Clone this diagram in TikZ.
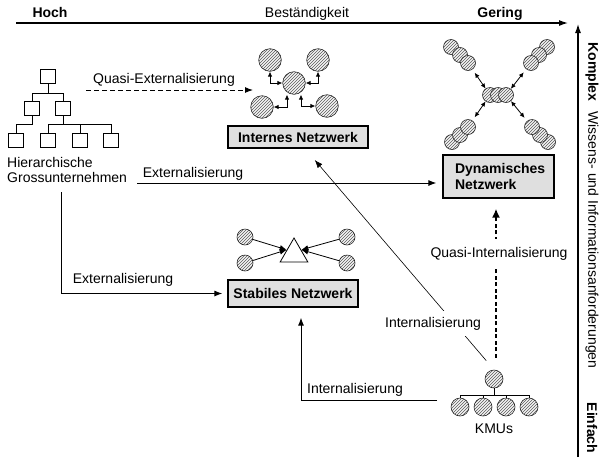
\documentclass[tikz,border=0pt]{standalone}
\usepackage{fontspec}
\setmainfont{Liberation Sans}
\usepackage{tikz}
\usetikzlibrary{arrows.meta,patterns,shapes.geometric,calc}
\newcommand{\lfont}{\fontsize{14}{15.5}\selectfont}
\tikzset{hcirc/.style={circle, draw=black!85, line width=0.6pt, preaction={fill=gray!8}, pattern=north east lines, pattern color=black!65, inner sep=0pt, minimum size=#1},
%default size of the hatched circles
hcirc/.default={16pt},
netbox/.style={draw, line width=1.2pt, fill=gray!25, font=\lfont\bfseries, minimum height=22pt, inner sep=0pt},
hbox/.style={draw, line width=0.7pt, minimum width=15pt, minimum height=14pt, inner sep=0pt},
lbl/.style={font=\lfont, inner sep=1pt},
axis/.style={line width=1.2pt, -{Latex[length=9pt,width=6pt]}},
flow/.style={line width=1pt, -{Latex[length=8pt,width=6pt]}},
dflow/.style={line width=0.6pt, -{Latex[length=8pt,width=6pt]}},
qflow/.style={line width=2.2pt, dash pattern=on 4pt off 2.5pt, -{Latex[length=9pt,width=8pt]}},
dbl/.style={line width=0.8pt, {Latex[length=5pt,width=4.5pt]}-{Latex[length=5pt,width=4.5pt]}},
sflow/.style={line width=0.8pt, -{Latex[length=7pt,width=5.5pt]}}}

\begin{document}
\begin{tikzpicture}[x=1pt,y=-1pt]
  \useasboundingbox (0,0) rectangle (604,464);

  % axes
  \coordinate (ax0) at (16,23);
  \coordinate (ax1) at (568,23);
  \coordinate (ay0) at (578,457);
  \coordinate (ay1) at (578,24);
  \draw[axis] (ax0) -- (ax1);
  \draw[axis] (ay0) -- (ay1);

  \node[lbl,anchor=base,font=\lfont\bfseries] (hoch) at (50,17) {Hoch};
  \node[lbl,anchor=base] (best) at (307,17) {Beständigkeit};
  \node[lbl,anchor=base,font=\lfont\bfseries] (gering) at (500,17) {Gering};

  \node[lbl,rotate=-90,font=\lfont\bfseries] (komplex) at (592,72) {Komplex};
  \node[lbl,rotate=-90] (wissen) at (592,240) {Wissens- und Informationsanforderungen};
  \node[lbl,rotate=-90,font=\lfont\bfseries] (einfach) at (592,428) {Einfach};

  % hierarchy
  \node[hbox] (h0) at (48,76) {};
  \node[hbox] (h1) at (32,108) {};
  \node[hbox] (h2) at (63,108) {};
  \foreach \i/\x in {3/16,4/48,5/80,6/111}
    \node[hbox] (h\i) at (\x,140) {};
  \draw[line width=0.7pt] (h0.south) -- ++(0,10) -| (h1.north);
  \draw[line width=0.7pt] (h0.south) -- ++(0,10) -| (h2.north);
  \draw[line width=0.7pt] (h1.south) -- ++(0,9) -| (h3.north);
  \foreach \i in {4,5,6}
    \draw[line width=0.7pt] (h2.south) -- ++(0,9) -| (h\i.north);

  \node[lbl,anchor=north west,align=left] (hgu) at (6,156) {Hierarchische\\Grossunternehmen};

  % internes netzwerk
  \node[hcirc=22.6pt] (c0) at (294,83) {};
  \node[hcirc=22.6pt] (c1) at (270,60) {};
  \node[hcirc=22.6pt] (c2) at (318,60) {};
  \node[hcirc=22.6pt] (c3) at (262,107) {};
  \node[hcirc=22.6pt] (c4) at (327,106) {};
  \draw[dbl] (c0.west) -| (c1.south);
  \draw[dbl] (c0.east) -| (c2.south);
  \draw[dbl] ([xshift=-7pt]c0.south) |- (c3.east);
  \draw[dbl] ([xshift=7pt]c0.south) |- (c4.west);
  \node[netbox,minimum width=140pt] (intern) at (298,137) {Internes Netzwerk};

  % dynamisches netzwerk
  \foreach \n/\x/\y in {a1/451/47,a2/460/55,a3/468/63,b1/547/47,b2/539/55,b3/531/63,e1/452/142,e2/460/135,e3/468/127,f1/548/142,f2/540/135,f3/532/127,m1/490/95,m2/498/95,m3/506/95}
    \node[hcirc=15pt] (\n) at (\x,\y) {};
  \draw[dbl,shorten <=4pt] (a3) -- (m1);
  \draw[dbl,shorten <=4pt] (b3) -- (m3);
  \draw[dbl,shorten <=4pt] (e3) -- (m1);
  \draw[dbl,shorten <=4pt] (f3) -- (m3);
  \node[netbox,minimum width=111pt,minimum height=43pt,text width=87pt,align=left,inner xsep=12pt] (dyn) at (498.5,176.5) {Dynamisches\\Netzwerk};

  % stabiles netzwerk
  \node[draw,regular polygon,regular polygon sides=3,minimum size=32pt,inner sep=0pt,fill=white,line width=0.8pt] (tri) at (294,254) {};
  \foreach \n/\x/\y in {s1/245/237,s2/245/263,s3/347/237,s4/347/263}
    \node[hcirc=16pt] (\n) at (\x,\y) {};
  \draw[sflow] (s1) -- (tri.side 1);
  \draw[sflow] (s2) -- (tri.side 1);
  \draw[sflow] (s3) -- (tri.side 3);
  \draw[sflow] (s4) -- (tri.side 3);
  \node[netbox,minimum width=130pt,minimum height=27pt] (stab) at (293,293.5) {Stabiles Netzwerk};

  % KMUs
  \node[hcirc=18pt] (k0) at (494,379) {};
  \foreach \i/\x in {1/460,2/483,3/506,4/529}
    \node[hcirc=18pt] (k\i) at (\x,407) {};
  \foreach \i in {1,...,4}
    \draw[line width=0.7pt] (k0.south) -- ++(0,7) -| (k\i.north);
  \node[lbl,anchor=base] (kmu) at (494,433) {KMUs};

  % externalisierung
  \coordinate (qe0) at (86,90);
  \coordinate (qe1) at (253,90);
  \draw[flow,dash pattern=on 5pt off 3pt] (qe0) -- (qe1);
  \node[lbl,anchor=base] (lqe) at (164,83) {Quasi-Externalisierung};

  \coordinate (ex0) at (137,183);
  \draw[flow,shorten >=6pt] (ex0) -- (ex0 -| dyn.west);
  \node[lbl,anchor=base] (lex1) at (193,177) {Externalisierung};

  \coordinate (ex2) at (61,192);
  \draw[flow,shorten >=5pt] (ex2) |- (stab.west);
  \node[lbl,anchor=base] (lex2) at (123,283) {Externalisierung};

  % internalisierung
  \coordinate (in0) at (437,400);
  \draw[flow,shorten >=10pt] (in0) -| ([xshift=8pt]stab.south);
  \node[lbl,anchor=base] (lin1) at (355,393) {Internalisierung};

  \draw[dflow,shorten <=12pt,shorten >=15pt] (k0.north) -- ([xshift=7pt]intern.south);
  \node[lbl,anchor=base,fill=white,inner ysep=6pt] (lin2) at (433,327) {Internalisierung};

  \draw[qflow,shorten <=12pt,shorten >=10pt] ([xshift=2pt]k0.north) -- ([xshift=-2.5pt]dyn.south);
  \node[lbl,anchor=base,fill=white,inner ysep=8pt] (lqi) at (499,257) {Quasi-Internalisierung};

\end{tikzpicture}
\end{document}
